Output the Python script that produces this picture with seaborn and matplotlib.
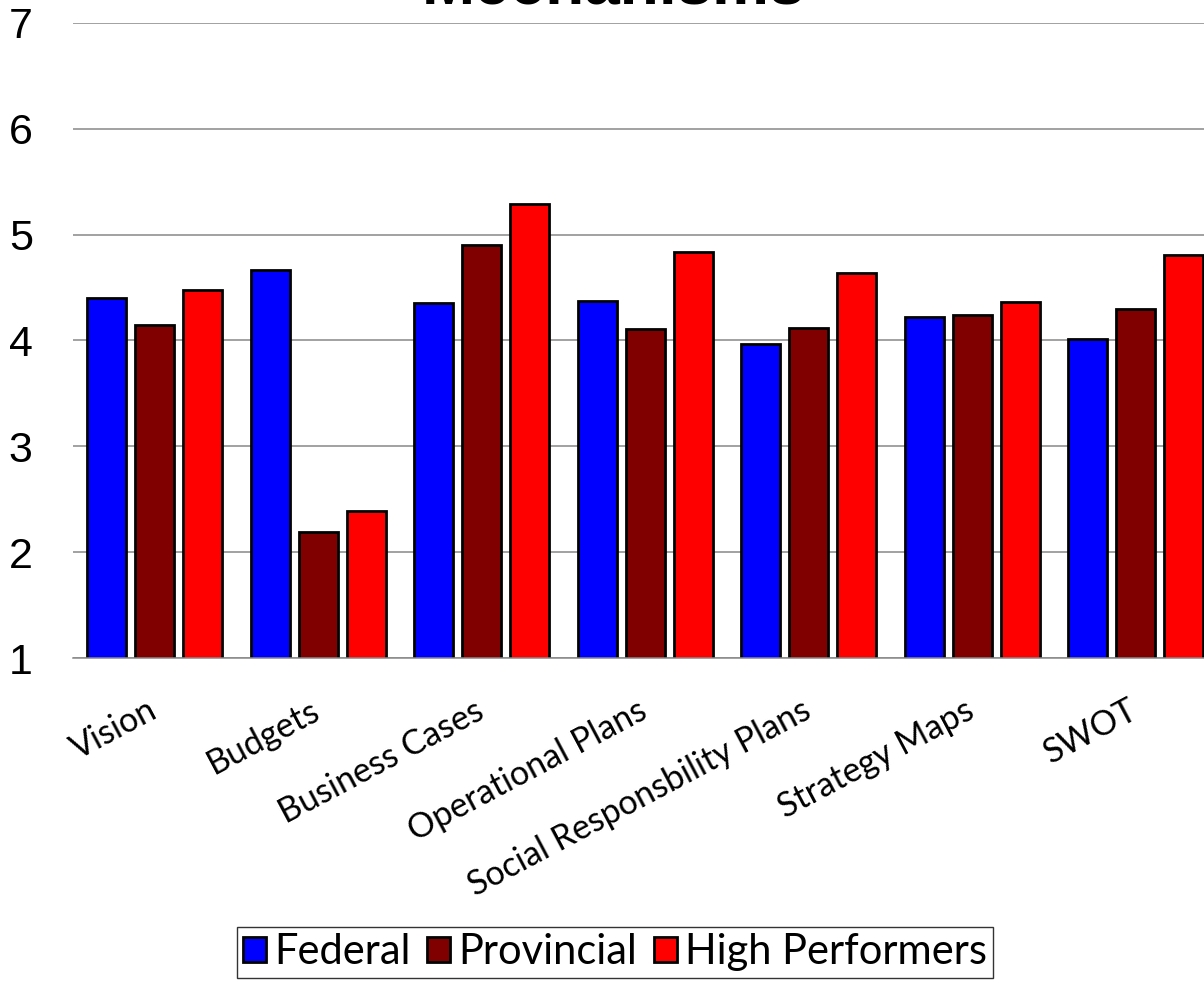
import pandas as pd
import matplotlib
matplotlib.use("Agg")
import matplotlib.pyplot as plt
import matplotlib.transforms as mtransforms
import seaborn as sns

# Data
mechanisms = ["Vision", "Budgets", "Business Cases", "Operational Plans",
              "Social Responsbility Plans", "Strategy Maps", "SWOT"]
federal = [4.40, 4.67, 4.35, 4.37, 3.97, 4.22, 4.01]
provincial = [4.15, 2.19, 4.90, 4.11, 4.12, 4.24, 4.30]
high_performers = [4.48, 2.39, 5.29, 4.84, 4.64, 4.36, 4.81]
groups = ["Federal", "Provincial", "High Performers"]
colors = ["#0000FF", "#800000", "#FF0000"]
y_ticks = [1, 2, 3, 4, 5, 6, 7]

df = pd.DataFrame({
    "mechanism": mechanisms * 3,
    "score": federal + provincial + high_performers,
    "group": [g for g in groups for _ in mechanisms],
})

sns.set_style("white")
plt.rcParams["font.family"] = ["Liberation Sans", "DejaVu Sans"]
plt.rcParams["text.color"] = "black"
plt.rcParams["xtick.color"] = "black"
plt.rcParams["ytick.color"] = "black"

fig = plt.figure(figsize=(12.04, 9.81), dpi=100)
ax = fig.add_axes([73 / 1204, 323 / 981, 1144.5 / 1204, 635 / 981])

sns.barplot(data=df, x="mechanism", y="score", hue="group", hue_order=groups,
            palette=colors, width=0.881, gap=0.19, edgecolor="black",
            linewidth=2, saturation=1, ax=ax)

ax.set_ylim(1, 7)
ax.set_xlim(-0.5, 6.5)
ax.set_yticks(y_ticks)
ax.yaxis.grid(True, color="#888888", linewidth=1.1)
ax.set_axisbelow(True)
for side in ["top", "right", "left"]:
    ax.spines[side].set_visible(False)
ax.spines["bottom"].set_color("#888888")
ax.spines["bottom"].set_linewidth(1.1)
ax.set_xlabel("")
ax.set_ylabel("")
ax.tick_params(axis="y", length=0, pad=29, labelsize=31, labelcolor="black")
ax.tick_params(axis="x", length=0, pad=26, labelcolor="black")
shift = mtransforms.ScaledTranslation(-8 / 100, 0, fig.dpi_scale_trans)
for lbl in ax.get_xticklabels():
    lbl.set_rotation(28)
    lbl.set_ha("right")
    lbl.set_va("top")
    lbl.set_rotation_mode("anchor")
    lbl.set_fontfamily("Lato")
    lbl.set_fontsize(24.5)
    lbl.set_transform(lbl.get_transform() + shift)

# Title sits mostly above the canvas, only its lower part is visible
fig.text(613 / 1204, 1 - 3 / 981, "Mechanisms", ha="center", va="baseline",
         fontsize=46, fontweight="bold", color="black")

handles, labels = ax.get_legend_handles_labels()
ax.get_legend().remove()
leg = fig.legend(handles, labels, loc="upper center", ncol=3,
                 bbox_to_anchor=(615 / 1204, 1 - 927 / 981),
                 frameon=True, fancybox=False, edgecolor="black",
                 prop={"family": "Lato", "size": 30},
                 handlelength=0.55, handleheight=0.55, handletextpad=0.2,
                 columnspacing=0.4, borderpad=0.15, borderaxespad=0)
leg.get_frame().set_linewidth(1)
for txt in leg.get_texts():
    txt.set_color("black")

fig.savefig("out.png", dpi=100)
